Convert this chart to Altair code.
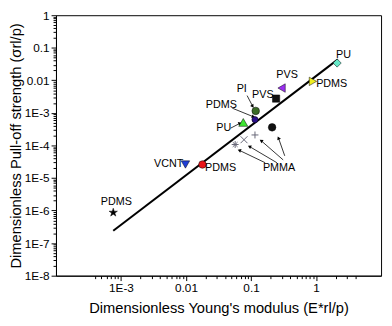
import math
import altair as alt
import pandas as pd

# ---- data ----
pt_keys = ["PDMS_star", "VCNT", "PDMS_red", "PU_green", "PDMS_navy", "PI",
           "PVS_square", "PVS_purple", "PDMS_yellow", "PU_cyan", "PMMA_ball"]
pt_x = [7.6e-4, 0.0098, 0.0179, 0.076, 0.115, 0.118, 0.243, 0.295, 0.895, 2.11, 0.211]
pt_y = [8.7e-7, 2.6e-5, 2.6e-5, 5.1e-4, 6.2e-4, 1.15e-3, 2.75e-3, 5.8e-3, 9.3e-3, 0.034, 3.6e-4]

pmma_keys = ["PMMA_plus", "PMMA_x", "PMMA_star"]
pmma_x = [0.115, 0.078, 0.057]
pmma_y = [2.1e-4, 1.5e-4, 1.07e-4]

fit_x = [7.6e-4, 2.17]
fit_y = [2.4e-7, 0.044]

lab_text = ["PDMS", "VCNT", "PDMS", "PU", "PDMS", "PI", "PVS", "PVS", "PDMS", "PU", "PMMA"]
lab_x = [8.5e-4, 0.0054, 0.034, 0.038, 0.035, 0.072, 0.152, 0.358, 1.74, 2.64, 0.27]
lab_y = [1.8e-6, 2.6e-5, 1.96e-5, 3.4e-4, 1.7e-3, 5.4e-3, 3.6e-3, 0.015, 7.6e-3, 0.058, 1.96e-5]

# annotation arrows: tail (x1, y1) -> head (x2, y2)
arr_x1 = [0.0486, 0.0514, 0.087, 0.33, 0.312, 0.25, 0.165]
arr_y1 = [3.4e-4, 1.4e-3, 3.4e-3, 4.8e-5, 3.6e-5, 2.95e-5, 2.95e-5]
arr_x2 = [0.0678, 0.109, 0.106, 0.264, 0.143, 0.0946, 0.066]
arr_y2 = [4.8e-4, 7.6e-4, 1.6e-3, 1.7e-4, 1.4e-4, 9.3e-5, 7.1e-5]

x_domain = [4e-4, 4]
y_domain = [1e-8, 1]

# ---- styling ----
W, H = 332, 266
FONT = "Liberation Sans"
STAR = ("M0,-1L0.2245,-0.309L0.951,-0.309L0.363,0.118L0.588,0.809L0,0.382"
        "L-0.588,0.809L-0.363,0.118L-0.951,-0.309L-0.2245,-0.309Z")
pt_shapes = [STAR, "triangle-down", "circle", "triangle-up", "circle", "circle",
             "square", "triangle-left", "triangle-right", "diamond", "circle"]
pt_colors = ["#000000", "#1f3fd6", "#e8141a", "#3fe632", "#2b0f8a", "#3a6b26",
             "#111111", "#9b30f0", "#eeee22", "#66e8c8", "#111111"]
pt_sizes = [80, 75, 60, 85, 40, 60, 55, 75, 75, 70, 60]
pmma_shapes = ["M-1,0L1,0M0,-1L0,1", "M-1,-1L1,1M-1,1L1,-1",
               "M-1,0L1,0M0,-1L0,1M-0.7,-0.7L0.7,0.7M-0.7,0.7L0.7,-0.7"]

pts = pd.DataFrame({"key": pt_keys, "x": pt_x, "y": pt_y, "size": pt_sizes})
pm = pd.DataFrame({"pkey": pmma_keys, "x": pmma_x, "y": pmma_y})
fit = pd.DataFrame({"x": fit_x, "y": fit_y})
labs = pd.DataFrame({"t": lab_text, "x": lab_x, "y": lab_y})

ppx = W / (math.log10(x_domain[1]) - math.log10(x_domain[0]))
ppy = H / (math.log10(y_domain[1]) - math.log10(y_domain[0]))
angles = []
for a, b, c, d in zip(arr_x1, arr_y1, arr_x2, arr_y2):
    dx = (math.log10(c) - math.log10(a)) * ppx
    dy = -(math.log10(d) - math.log10(b)) * ppy
    angles.append(math.degrees(math.atan2(dx, -dy)) % 360)
arrows = pd.DataFrame({"x1": arr_x1, "y1": arr_y1, "x2": arr_x2, "y2": arr_y2, "ang": angles})

major = "abs(log(datum.value)/LN10 - round(log(datum.value)/LN10)) < 0.001"
lab_expr = (f"({major}) ? (datum.value >= 0.01 ? '' + datum.value : "
            "'1E' + round(log(datum.value)/LN10)) : ''")


def ticks(lo, hi):
    out = []
    for k in range(-9, 2):
        for n in range(1, 10):
            v = n * 10.0 ** k
            if lo * 0.999 <= v <= hi * 1.001:
                out.append(float(f"{v:.3g}"))
    return out


axis_common = dict(labelExpr=lab_expr, labelOverlap=False, grid=False,
                   tickSize={"condition": {"test": major, "value": 5}, "value": 3},
                   labelFont=FONT, labelFontSize=12, titleFont=FONT, titleFontSize=15,
                   titleFontWeight="normal", domainColor="black", tickColor="black",
                   labelColor="black", titleColor="black", labelPadding=2)

X = alt.X("x:Q", scale=alt.Scale(type="log", domain=x_domain),
          axis=alt.Axis(values=ticks(*x_domain), title="Dimensionless Young's modulus (E*rl/p)",
                        titlePadding=8, **axis_common))
Y = alt.Y("y:Q", scale=alt.Scale(type="log", domain=y_domain),
          axis=alt.Axis(values=ticks(*y_domain), title="Dimensionless Pull-off strength (σrl/p)",
                        titlePadding=1, **axis_common))

line = alt.Chart(fit).mark_line(color="black", strokeWidth=2).encode(x=X, y=Y)

filled = alt.Chart(pts).mark_point(filled=True, stroke="black", strokeWidth=0.5, opacity=1).encode(
    x="x:Q", y="y:Q",
    shape=alt.Shape("key:N", scale=alt.Scale(domain=pt_keys, range=pt_shapes), legend=None),
    fill=alt.Fill("key:N", scale=alt.Scale(domain=pt_keys, range=pt_colors), legend=None),
    size=alt.Size("size:Q", scale=None, legend=None),
)

strokes = alt.Chart(pm).mark_point(filled=False, color="#666677", strokeWidth=1, size=50, opacity=1).encode(
    x="x:Q", y="y:Q",
    shape=alt.Shape("pkey:N", scale=alt.Scale(domain=pmma_keys, range=pmma_shapes), legend=None),
)

texts = alt.Chart(labs).mark_text(font=FONT, fontSize=11, color="black",
                                  align="center", baseline="middle").encode(
    x="x:Q", y="y:Q", text="t:N")

shafts = alt.Chart(arrows).mark_rule(color="black", strokeWidth=0.8).encode(
    x="x1:Q", y="y1:Q", x2="x2:Q", y2="y2:Q")
heads = alt.Chart(arrows).mark_point(shape="triangle-up", filled=True, color="black",
                                     size=16, opacity=1).encode(
    x="x2:Q", y="y2:Q", angle=alt.Angle("ang:Q", scale=None))

chart = alt.layer(line, shafts, heads, strokes, filled, texts).resolve_scale(
    shape="independent", fill="independent", size="independent"
).properties(
    width=W, height=H,
    autosize=alt.AutoSizeParams(type="none"),
    padding={"left": 49, "top": 4, "right": 3, "bottom": 48},
).configure_view(stroke="black", strokeWidth=1)

chart.save("out.html", embed_options={"renderer": "svg", "actions": False})
